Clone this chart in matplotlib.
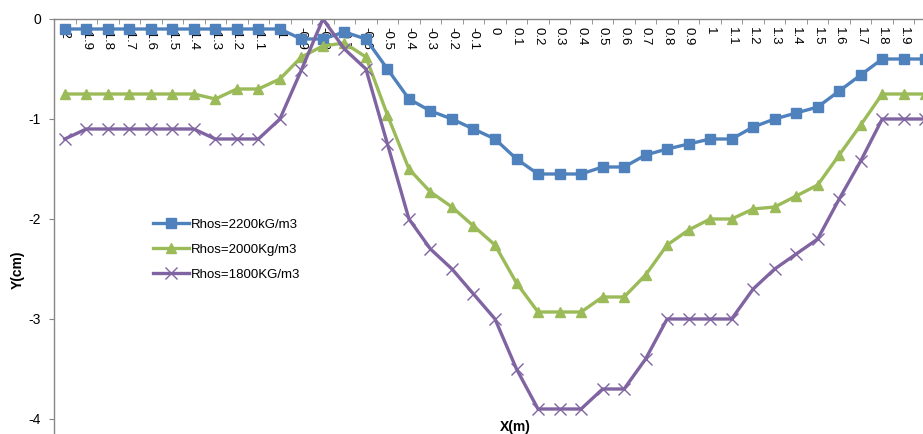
import matplotlib.pyplot as plt

plt.rcParams['font.family'] = ['Liberation Sans', 'DejaVu Sans']
plt.rcParams['axes.unicode_minus'] = False

# categorias do eixo X (m)
x_labels = ['-2', '-1.9', '-1.8', '-1.7', '-1.6', '-1.5', '-1.4', '-1.3', '-1.2', '-1.1', '-1',
            '-0.9', '-0.8', '-0.7', '-0.6', '-0.5', '-0.4', '-0.3', '-0.2', '-0.1', '0',
            '0.1', '0.2', '0.3', '0.4', '0.5', '0.6', '0.7', '0.8', '0.9', '1',
            '1.1', '1.2', '1.3', '1.4', '1.5', '1.6', '1.7', '1.8', '1.9', '2']

rhos_2200 = [-0.1, -0.1, -0.1, -0.1, -0.1, -0.1, -0.1, -0.1, -0.1, -0.1, -0.1,
             -0.2, -0.2, -0.13, -0.2, -0.5, -0.8, -0.92, -1.0, -1.1, -1.2,
             -1.4, -1.55, -1.55, -1.55, -1.48, -1.48, -1.36, -1.3, -1.25, -1.2,
             -1.2, -1.08, -1.0, -0.94, -0.88, -0.72, -0.56, -0.4, -0.4, -0.4]

rhos_2000 = [-0.75, -0.75, -0.75, -0.75, -0.75, -0.75, -0.75, -0.8, -0.7, -0.7, -0.6,
             -0.38, -0.27, -0.24, -0.38, -0.96, -1.5, -1.73, -1.88, -2.07, -2.26,
             -2.64, -2.93, -2.93, -2.93, -2.78, -2.78, -2.56, -2.26, -2.11, -2.0,
             -2.0, -1.9, -1.88, -1.77, -1.66, -1.36, -1.06, -0.75, -0.75, -0.75]

rhos_1800 = [-1.2, -1.1, -1.1, -1.1, -1.1, -1.1, -1.1, -1.2, -1.2, -1.2, -1.0,
             -0.51, 0.0, -0.3, -0.5, -1.25, -2.0, -2.3, -2.5, -2.75, -3.0,
             -3.5, -3.9, -3.9, -3.9, -3.7, -3.7, -3.4, -3.0, -3.0, -3.0,
             -3.0, -2.7, -2.5, -2.35, -2.2, -1.8, -1.42, -1.0, -1.0, -1.0]

y_ticks = [0, -1, -2, -3, -4]

W, H = 923, 434
fig = plt.figure(figsize=(W / 100, H / 100), dpi=100)
ax = fig.add_axes([54 / W, 0, (936 - 54) / W, 1 - 19 / H])

idx = list(range(len(x_labels)))
ax.plot(idx, rhos_2200, color='#4F81BD', lw=2.4, marker='s', ms=6.5, label='Rhos=2200kG/m3')
ax.plot(idx, rhos_2000, color='#9BBB59', lw=2.4, marker='^', ms=7.5, label='Rhos=2000Kg/m3')
ax.plot(idx, rhos_1800, color='#8064A2', lw=2.4, marker='x', ms=9, mew=1.0, label='Rhos=1800KG/m3')

ax.set_xlim(-0.5, len(x_labels) - 0.5)
ax.set_ylim(-4.15, 0)

# eixo X no topo (y = 0)
for s in ['right', 'bottom']:
    ax.spines[s].set_visible(False)
for s in ['left', 'top']:
    ax.spines[s].set_color('#868686')
    ax.spines[s].set_linewidth(1)

ax.set_xticks(idx)
ax.set_xticklabels(x_labels, rotation=270, ha='center', va='top', fontsize=9.5)
ax.set_xticks([i + 0.5 for i in idx[:-1]], minor=True)
ax.tick_params(axis='x', which='major', top=True, labeltop=True, bottom=False,
               labelbottom=False, length=0, pad=-6)
ax.tick_params(axis='x', which='minor', top=True, bottom=False, direction='in',
               length=3.5, color='#868686')

ax.set_yticks(y_ticks)
ax.set_yticklabels([str(v) for v in y_ticks], fontsize=10)
ax.tick_params(axis='y', direction='out', length=3.5, color='#868686', pad=6)

ax.legend(loc='upper left', bbox_to_anchor=(141 / W, 1 - 207 / H),
          bbox_transform=fig.transFigure, frameon=False, fontsize=9.5,
          handlelength=2.7, handletextpad=0.2, labelspacing=0.95)

fig.text(18 / W, 1 - 270 / H, 'Y(cm)', rotation=90, ha='center', va='center',
         fontsize=10, fontweight='bold')
fig.text(515 / W, 1 - 427 / H, 'X(m)', ha='center', va='center',
         fontsize=10, fontweight='bold')

fig.savefig('out.png', dpi=100)
